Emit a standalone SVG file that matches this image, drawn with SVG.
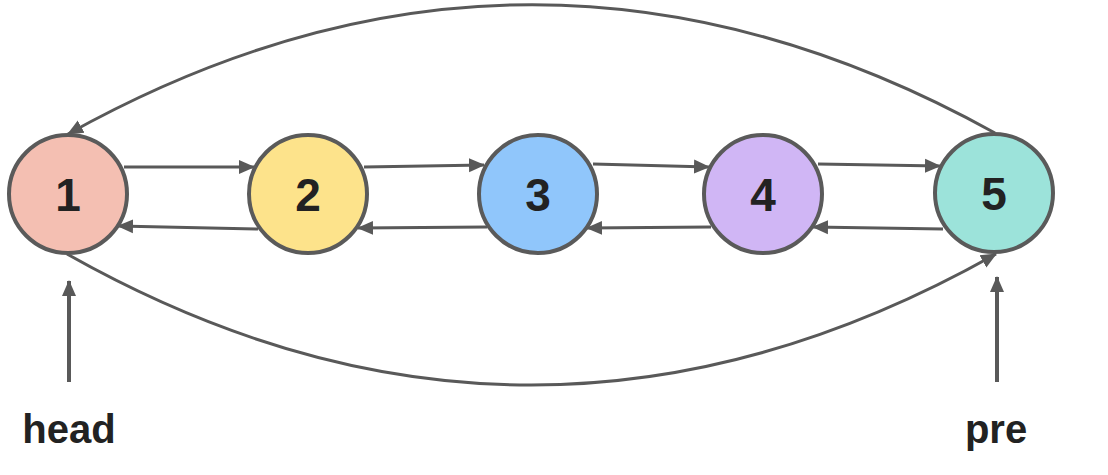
<svg xmlns="http://www.w3.org/2000/svg" width="1108" height="475" viewBox="0 0 1108 475">
<defs>
<marker id="ah" markerUnits="userSpaceOnUse" markerWidth="18" markerHeight="16" refX="15" refY="8" orient="auto">
<path d="M0,1 L16,8 L0,15 Z" fill="#595959"/>
</marker>
<style>
.node circle{stroke:#5a5a5a;stroke-width:4}
.node text{font-family:"Liberation Sans",Arial,sans-serif;font-weight:bold;font-size:46px;fill:#222;text-anchor:middle}
.conn path,.conn line{stroke:#595959;stroke-width:3;fill:none;marker-end:url(#ah)}
.conn .ptr{stroke-width:4}
.lbl{font-family:"Liberation Sans",Arial,sans-serif;font-weight:bold;font-size:40px;fill:#222;text-anchor:middle}
</style>
</defs>
<rect width="1108" height="475" fill="#fff"/>
<g id="connectors" class="conn">
<line x1="124" y1="167" x2="254" y2="167"/>
<line x1="258" y1="229" x2="118" y2="226"/>
<line x1="364" y1="167" x2="484" y2="165"/>
<line x1="487" y1="227" x2="358" y2="228"/>
<line x1="593" y1="164" x2="709" y2="167"/>
<line x1="711" y1="227" x2="587" y2="228"/>
<line x1="818" y1="164" x2="940" y2="166"/>
<line x1="943" y1="229" x2="813" y2="227"/>
<path d="M995,133 Q531,-124 68,134"/>
<path d="M67,254 Q531,516 996,254"/>
<line class="ptr" x1="69" y1="382" x2="69" y2="281"/>
<line class="ptr" x1="997" y1="382" x2="997" y2="277"/>
</g>
<g id="node1" class="node"><circle cx="68" cy="194" r="59" fill="#f4bfb2"/><text x="68" y="211">1</text></g>
<g id="node2" class="node"><circle cx="308" cy="194" r="59" fill="#fde38b"/><text x="308" y="211">2</text></g>
<g id="node3" class="node"><circle cx="538" cy="194" r="59" fill="#90c6fb"/><text x="538" y="211">3</text></g>
<g id="node4" class="node"><circle cx="763" cy="194" r="59" fill="#d0b6f5"/><text x="763" y="211">4</text></g>
<g id="node5" class="node"><circle cx="994" cy="193" r="59" fill="#9ce3da"/><text x="994" y="210">5</text></g>
<g id="head"><text class="lbl" x="69" y="443">head</text></g>
<g id="pre"><text class="lbl" x="996" y="443">pre</text></g>
</svg>
